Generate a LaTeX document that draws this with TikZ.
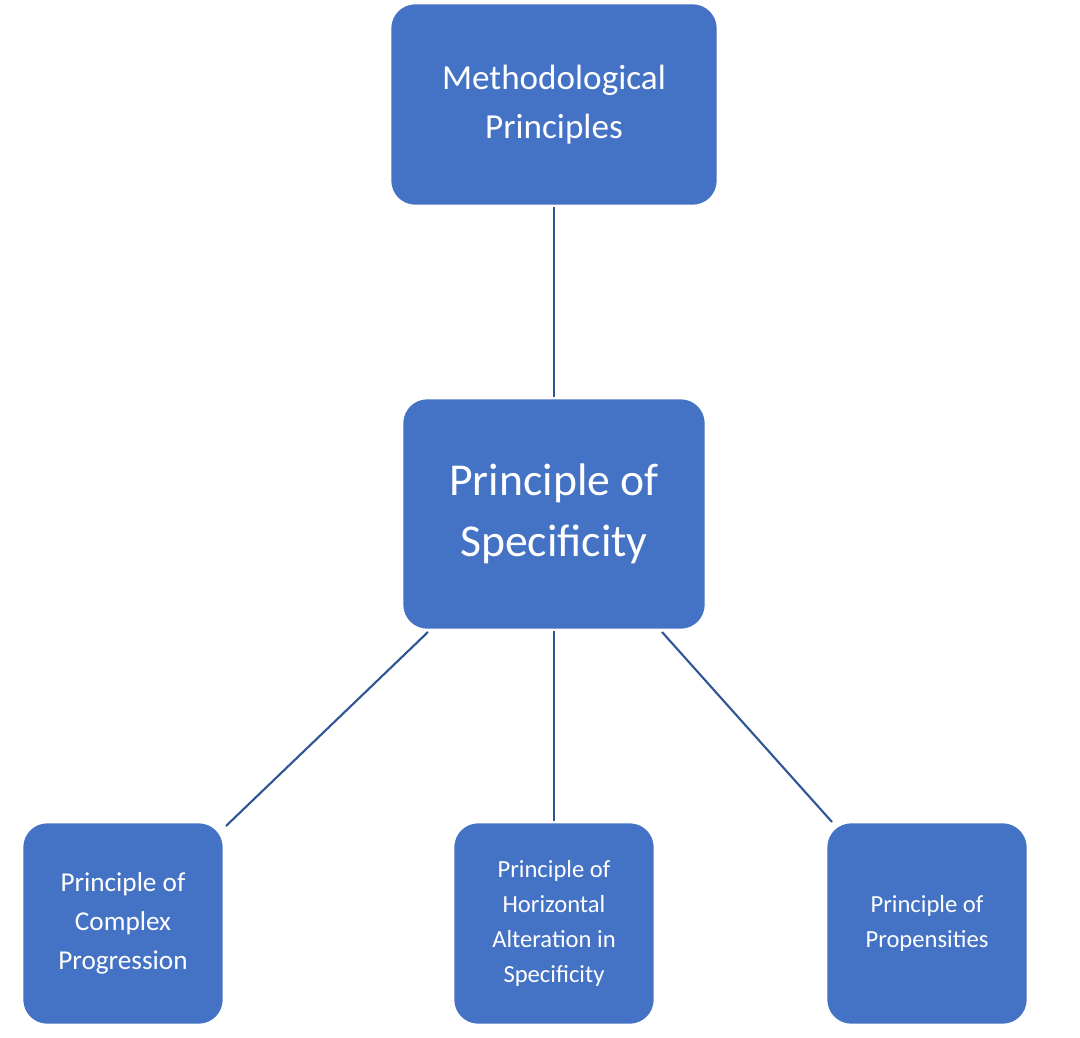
\documentclass[tikz,border=0pt]{standalone}
\usepackage{fontspec}
\setmainfont{Carlito}
\definecolor{boxblue}{HTML}{4472C4}
\definecolor{linkblue}{HTML}{2F5597}
\begin{document}
\begin{tikzpicture}[x=0.02cm,y=-0.02cm,
  box/.style={draw=white,line width=1.5pt,fill=boxblue,rounded corners=0.5cm,text=white,align=center,inner sep=0pt},
  link/.style={draw=linkblue,line width=1.2pt}]
\useasboundingbox[fill=white] (0,0) rectangle (1080,1038);
\node[box,minimum width=328*0.02cm,minimum height=203*0.02cm,font=\fontsize{20}{28}\selectfont] (top) at (554,104.5) {Methodological\\Principles};
\node[box,minimum width=304*0.02cm,minimum height=232*0.02cm,font=\fontsize{26}{34.5}\selectfont] (mid) at (554,514) {Principle of\\Specificity};
\node[box,minimum width=202*0.02cm,minimum height=203*0.02cm,font=\fontsize{15.5}{22}\selectfont] (l) at (123,923.5) {Principle of\\Complex\\Progression};
\node[box,minimum width=202*0.02cm,minimum height=203*0.02cm,font=\fontsize{14}{20}\selectfont] (c) at (554,923.5) {Principle of\\Horizontal\\Alteration in\\Specificity};
\node[box,minimum width=202*0.02cm,minimum height=203*0.02cm,font=\fontsize{14}{20}\selectfont] (r) at (927,923.5) {Principle of\\Propensities};
\coordinate (ml) at (428,632);
\coordinate (lt) at (226,826);
\coordinate (mr) at (662,632);
\coordinate (rt) at (832,822);
\draw[link] (top.south) -- (mid.north);
\draw[link] (mid.south) -- (c.north);
\draw[link] (ml) -- (lt);
\draw[link] (mr) -- (rt);
\end{tikzpicture}
\end{document}
